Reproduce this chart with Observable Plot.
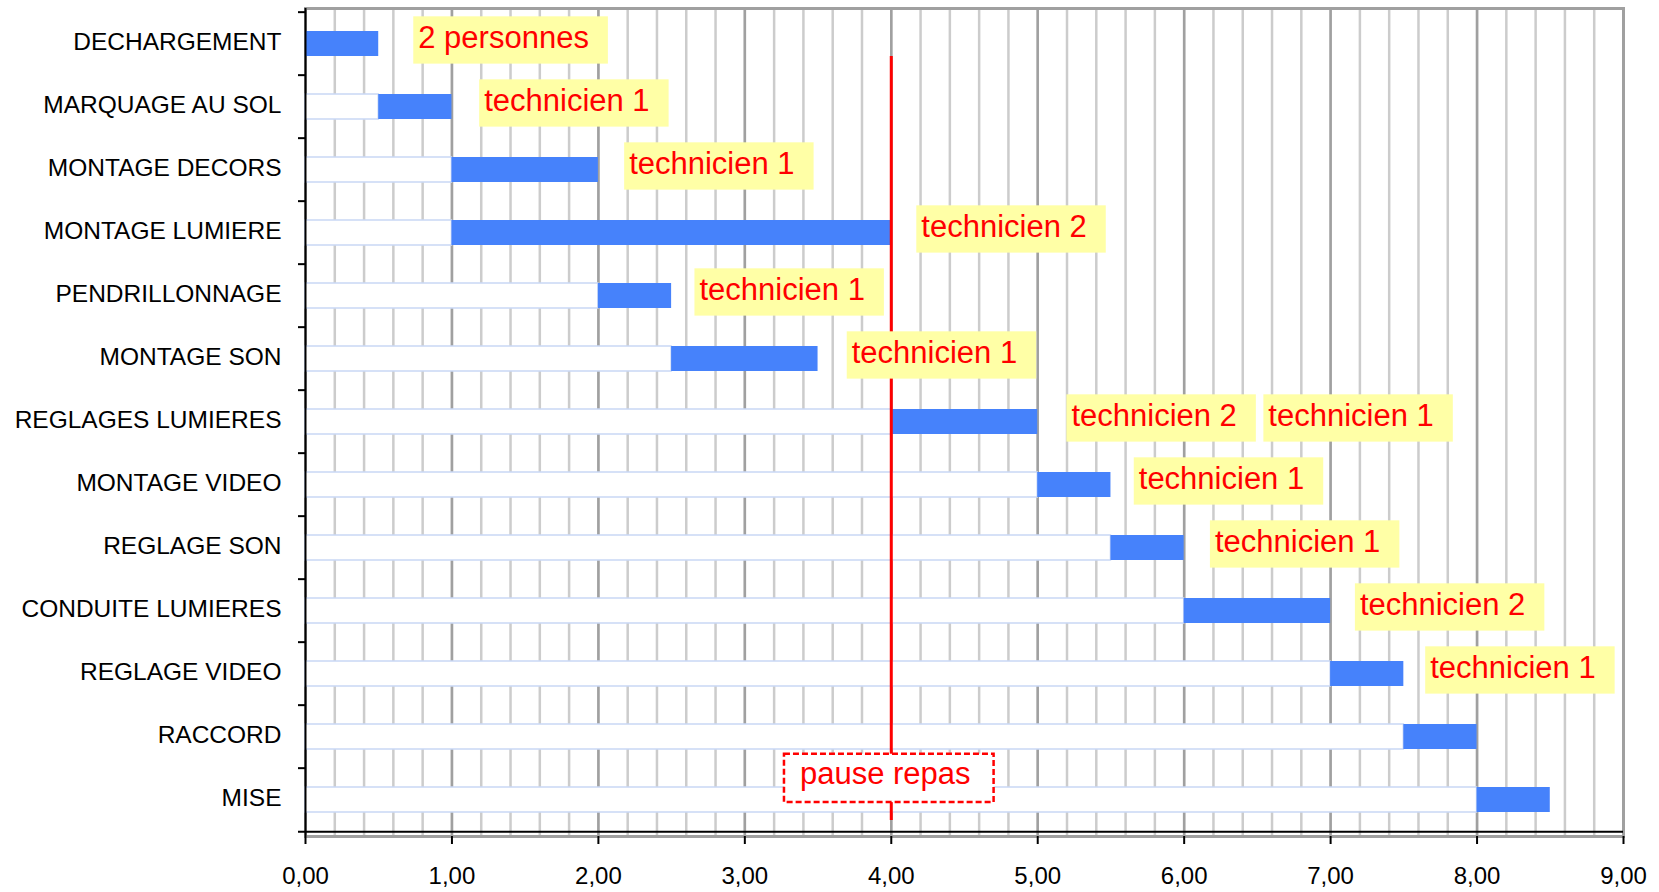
<!DOCTYPE html>
<html>
<head>
<meta charset="utf-8">
<script src="https://cdn.jsdelivr.net/npm/d3@7"></script>
<script src="https://cdn.jsdelivr.net/npm/@observablehq/plot@0.6"></script>
<style>
  html, body { margin: 0; padding: 0; background: white; }
</style>
</head>
<body>
<div id="chart"></div>
<script>
// ---- data ----
const categories = ["DECHARGEMENT", "MARQUAGE AU SOL", "MONTAGE DECORS", "MONTAGE LUMIERE", "PENDRILLONNAGE", "MONTAGE SON", "REGLAGES LUMIERES", "MONTAGE VIDEO", "REGLAGE SON", "CONDUITE LUMIERES", "REGLAGE VIDEO", "RACCORD", "MISE"];
const starts    = [0, 0.5, 1, 1, 2, 2.5, 4, 5, 5.5, 6, 7, 7.5, 8];
const durations = [0.5, 0.5, 1, 3, 0.5, 1, 1, 0.5, 0.5, 1, 0.5, 0.5, 0.5];

const noteTasks = ["DECHARGEMENT", "MARQUAGE AU SOL", "MONTAGE DECORS", "MONTAGE LUMIERE", "PENDRILLONNAGE", "MONTAGE SON", "REGLAGES LUMIERES", "REGLAGES LUMIERES", "MONTAGE VIDEO", "REGLAGE SON", "CONDUITE LUMIERES", "REGLAGE VIDEO"];
const noteTexts = ["2 personnes", "technicien 1", "technicien 1", "technicien 2", "technicien 1", "technicien 1", "technicien 2", "technicien 1", "technicien 1", "technicien 1", "technicien 2", "technicien 1"];
const noteX     = [0.77, 1.22, 2.21, 4.205, 2.69, 3.73, 5.23, 6.575, 5.69, 6.21, 7.20, 7.68];

const xTicks = [0, 1, 2, 3, 4, 5, 6, 7, 8, 9];
const pauseX = 4;
const pauseTask = "MISE";
const pauseLabel = "pause repas";

// ---- layout ----
const W = 1659, H = 892;
const mTop = 8, mBottom = 56, mLeft = 305, mRight = 36;
const step = (H - mTop - mBottom) / categories.length;
const font = "'Liberation Sans', Arial, Helvetica, sans-serif";

const tasks = categories.map((c, i) => ({task: c, start: starts[i], end: starts[i] + durations[i]}));
const notes = noteTasks.map((t, i) => ({task: t, x: noteX[i], text: noteTexts[i]}));
const pause = [{task: pauseTask, x: pauseX, text: pauseLabel}];

const chart = Plot.plot({
  width: W,
  height: H,
  marginTop: mTop,
  marginBottom: mBottom,
  marginLeft: mLeft,
  marginRight: mRight,
  style: {fontFamily: font, background: "white", overflow: "visible"},
  x: {domain: [0, 9], axis: null},
  y: {domain: categories, paddingInner: 0.6, paddingOuter: 0.3, axis: null},
  marks: [
    Plot.gridX({ticks: 45, stroke: "#cccccc", strokeOpacity: 1, strokeWidth: 2.5}),
    Plot.gridX(xTicks, {stroke: "#a0a0a0", strokeOpacity: 1, strokeWidth: 2.5}),
    Plot.frame({stroke: "#a0a0a0", strokeWidth: 3}),
    Plot.barX(tasks, {y: "task", x1: 0, x2: "start", fill: "white", stroke: "#c9d7f5", strokeWidth: 1.5}),
    Plot.barX(tasks, {y: "task", x1: "start", x2: "end", fill: "#4682fb"}),
    Plot.ruleX([pauseX], {stroke: "#ff0000", strokeWidth: 3, insetTop: 48, insetBottom: 16}),
    // category boundary ticks on the left axis
    Plot.ruleY(categories, {y: d => d, x1: 0, x2: 0, insetLeft: -7, dy: -step / 2, stroke: "black", strokeWidth: 2}),
    // axis lines
    Plot.ruleX([0], {stroke: "black", strokeWidth: 2}),
    Plot.ruleY([categories[categories.length - 1]], {y: d => d, x1: 0, x2: 9, insetLeft: -7, dy: step / 2, stroke: "black", strokeWidth: 2}),
    Plot.axisY({tickSize: 0, tickPadding: 24, fontSize: 24.5, dy: -2, label: null, fill: "black"}),
    Plot.axisX(xTicks, {tickSize: 8, tickPadding: 22, fontSize: 24, strokeWidth: 2, label: null, fill: "black",
      tickFormat: d => d.toFixed(2).replace(".", ",")}),
    Plot.text(notes, {x: "x", y: "task", text: "text", textAnchor: "start", dy: -6, fill: "#ff0000", fontSize: 31}),
    Plot.text(pause, {x: "x", y: "task", text: "text", textAnchor: "middle", dx: -6, dy: -26, fill: "#ff0000", fontSize: 31})
  ]
});

document.getElementById("chart").append(chart);

// label backgrounds sized from the rendered text
const NS = "http://www.w3.org/2000/svg";
function box(t, pad, attrs) {
  const b = t.getBBox();
  const r = document.createElementNS(NS, "rect");
  r.setAttribute("x", b.x - pad.l);
  r.setAttribute("y", b.y - pad.t);
  r.setAttribute("width", b.width + pad.l + pad.r);
  r.setAttribute("height", b.height + pad.t + pad.b);
  const tr = t.getAttribute("transform");
  if (tr) r.setAttribute("transform", tr);
  for (const k in attrs) r.setAttribute(k, attrs[k]);
  t.parentNode.insertBefore(r, t);
}
chart.querySelectorAll("text").forEach(t => {
  const s = t.textContent;
  if (s === pauseLabel) {
    box(t, {l: 16, r: 23, t: 2.2, b: 11.2}, {fill: "white", stroke: "#ff0000", "stroke-width": 2.5, "stroke-dasharray": "6,3"});
  } else if (noteTexts.includes(s)) {
    box(t, {l: 5, r: 19, t: 3.6, b: 8.7}, {fill: "#ffffa6"});
  }
});
</script>
</body>
</html>
